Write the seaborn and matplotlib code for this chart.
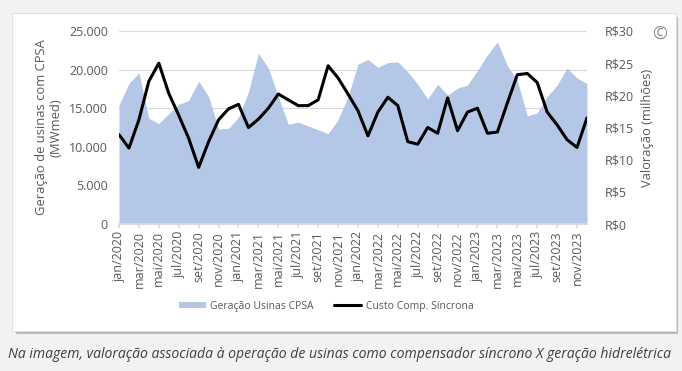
import pandas as pd
import matplotlib.pyplot as plt
import seaborn as sns
from matplotlib.patches import Rectangle, Patch
from matplotlib.lines import Line2D
from matplotlib.ticker import FuncFormatter

meses = ['jan', 'fev', 'mar', 'abr', 'mai', 'jun', 'jul', 'ago', 'set', 'out', 'nov', 'dez']
anos = [2020, 2021, 2022, 2023]
periodo = [f'{m}/{a}' for a in anos for m in meses]

# Geração Usinas CPSA (MWmed)
geracao = [15400, 18200, 19600, 13700, 13000, 14300, 15500, 16000, 18500, 16500, 12300, 12400,
           13800, 17100, 22100, 20200, 16500, 12900, 13200, 12700, 12200, 11700, 13500, 16500,
           20700, 21300, 20300, 20900, 21000, 19700, 18100, 16200, 18100, 16700, 17600, 18000,
           19900, 21900, 23600, 20500, 18600, 14000, 14400, 16500, 18000, 20200, 18900, 18200]
# Custo Comp. Síncrona (R$ milhões)
custo = [13.9, 11.8, 16.2, 22.2, 25.0, 20.3, 16.9, 13.3, 8.8, 12.8, 16.2, 17.9,
         18.6, 15.0, 16.3, 18.0, 20.2, 19.3, 18.4, 18.4, 19.3, 24.6, 22.7, 20.2,
         17.6, 13.7, 17.4, 19.7, 18.4, 12.8, 12.4, 15.0, 14.1, 19.6, 14.5, 17.4,
         18.0, 14.1, 14.3, 18.8, 23.2, 23.4, 22.0, 17.4, 15.4, 13.1, 11.9, 16.5]

df = pd.DataFrame({'idx': range(len(periodo)), 'periodo': periodo,
                   'geracao': geracao, 'custo': custo})

sns.set_theme(style='white')
plt.rcParams['font.family'] = ['Open Sans', 'DejaVu Sans']
cinza = '#595959'

fig = plt.figure(figsize=(6.82, 3.71), dpi=100, facecolor='#f2f2f2')
W, H = 682, 371
fig.patches.append(Rectangle((15 / W, 1 - 334 / H), 663 / W, 318 / H, transform=fig.transFigure,
                             facecolor='#8c8c8c', alpha=0.6, zorder=-2))
fig.patches.append(Rectangle((12 / W, 1 - 331 / H), 664 / W, 318 / H, transform=fig.transFigure,
                             facecolor='white', edgecolor='#e0e0e0', lw=0.8, zorder=-1))

ax = fig.add_axes([119 / W, 1 - 224 / H, 468 / W, 193 / H])
ax.set_facecolor('none')
ax.fill_between(df['idx'], df['geracao'], color='#b4c7e7', lw=0, zorder=2)
ax.set_ylim(0, 25000)
ax.set_xlim(0, len(periodo) - 1)
ax.set_yticks(range(0, 25001, 5000))
ax.yaxis.set_major_formatter(FuncFormatter(lambda v, p: f'{int(v):,}'.replace(',', '.')))
ax.grid(axis='y', color='#d9d9d9', lw=0.8, zorder=0)
ax.set_axisbelow(True)
ax.set_xticks(df['idx'][::2])
ax.set_xticklabels(df['periodo'][::2], rotation=90, fontsize=9, color=cinza)
ax.tick_params(axis='x', length=3, color='#d9d9d9', pad=2, bottom=True)
ax.tick_params(axis='y', labelsize=9, labelcolor=cinza, length=0, pad=8)
ax.set_ylabel('Geração de usinas com CPSA\n(MWmed)', fontsize=9.4, color=cinza, labelpad=5,
              linespacing=1.1)
ax.set_xlabel('')
for s in ['top', 'left', 'right']:
    ax.spines[s].set_visible(False)
ax.spines['bottom'].set_color('#d9d9d9')

ax2 = ax.twinx()
sns.lineplot(data=df, x='idx', y='custo', ax=ax2, color='black', lw=2.2, zorder=3)
ax2.set_ylim(0, 30)
ax2.set_yticks(range(0, 31, 5))
ax2.yaxis.set_major_formatter(FuncFormatter(lambda v, p: f'R${int(v)}'))
ax2.tick_params(axis='y', labelsize=9, labelcolor=cinza, length=0, pad=13)
ax2.set_ylabel('Valoração (milhões)', fontsize=9.3, color=cinza, labelpad=5)
ax2.set_xlabel('')
for s in ax2.spines.values():
    s.set_visible(False)

handles = [Patch(facecolor='#b4c7e7', edgecolor='none'),
           Line2D([0], [0], color='black', lw=2.2)]
fig.legend(handles, ['Geração Usinas CPSA', 'Custo Comp. Síncrona'], loc='center',
           bbox_to_anchor=(326 / W, 1 - 306 / H), ncol=2, frameon=False, fontsize=7.5,
           labelcolor=cinza, handlelength=2.6, handleheight=0.6, columnspacing=2, handletextpad=0.4)

fig.text(660 / W, 1 - 34 / H, '©', fontsize=13, color='#909090', ha='center', va='center')
fig.text(8 / W, 1 - 355 / H,
         'Na imagem, valoração associada à operação de usinas como compensador síncrono X geração hidrelétrica',
         fontsize=10.1, style='italic', color='#404040', ha='left', va='center')

fig.savefig('out.png', dpi=100, facecolor=fig.get_facecolor())
